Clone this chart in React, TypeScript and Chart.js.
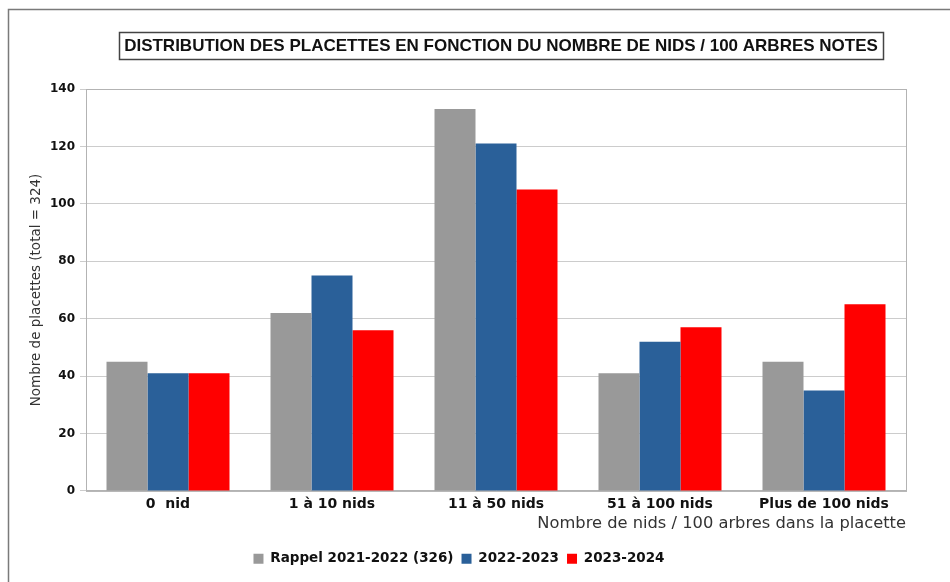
import React, { useRef, useEffect } from 'react';
import { Chart, registerables } from 'chart.js';

Chart.register(...registerables);

const categories = ['0  nid', '1 à 10 nids', '11 à 50 nids', '51 à 100 nids', 'Plus de 100 nids'];
const rappel2122 = [45, 62, 133, 41, 45];
const saison2223 = [41, 75, 121, 52, 35];
const saison2324 = [41, 56, 105, 57, 65];
const chartTitle = 'DISTRIBUTION DES PLACETTES EN FONCTION DU NOMBRE DE NIDS / 100 ARBRES NOTES';

const FONT = '"DejaVu Sans", Verdana, sans-serif';
const TITLE_FONT = '"Liberation Sans", Arial, sans-serif';

// outer frame, boxed title and plot border
const framePlugin = {
  id: 'frame',
  beforeDraw: (chart: Chart) => {
    const ctx = chart.ctx;
    ctx.save();
    ctx.fillStyle = '#ffffff';
    ctx.fillRect(0, 0, chart.width, chart.height);
    ctx.strokeStyle = '#7a7a7a';
    ctx.lineWidth = 1.5;
    ctx.beginPath();
    ctx.moveTo(8.5, chart.height);
    ctx.lineTo(8.5, 9.5);
    ctx.lineTo(chart.width, 9.5);
    ctx.stroke();
    ctx.restore();
  },
  afterDraw: (chart: Chart) => {
    const ctx = chart.ctx;
    const { left, right, top, bottom } = chart.chartArea;
    ctx.save();
    ctx.strokeStyle = '#b3b3b3';
    ctx.lineWidth = 1;
    ctx.strokeRect(left + 0.5, top + 0.5, right - left, bottom - top);

    // title text inside a box
    const cx = 501;
    const cy = 46;
    ctx.font = `bold 17px ${TITLE_FONT}`;
    ctx.fillStyle = '#111111';
    ctx.textAlign = 'center';
    ctx.textBaseline = 'middle';
    const w = ctx.measureText(chartTitle).width;
    ctx.fillText(chartTitle, cx, cy);
    ctx.strokeStyle = '#444444';
    ctx.lineWidth = 1.5;
    ctx.strokeRect(Math.round(cx - w / 2 - 5) + 0.5, cy - 13.5, Math.round(w + 10), 27);
    ctx.restore();
  },
};

const App: React.FC = () => {
  const chartRef = useRef<HTMLCanvasElement>(null);
  const chartInstance = useRef<Chart | null>(null);

  useEffect(() => {
    if (!chartRef.current) return;
    if (chartInstance.current) chartInstance.current.destroy();
    document.body.style.margin = '0';

    chartInstance.current = new Chart(chartRef.current, {
      type: 'bar',
      data: {
        labels: categories,
        datasets: [
          { label: 'Rappel 2021-2022 (326)', data: rappel2122, backgroundColor: '#999999' },
          { label: '2022-2023', data: saison2223, backgroundColor: '#2a6099' },
          { label: '2023-2024', data: saison2324, backgroundColor: '#ff0000' },
        ],
      },
      options: {
        responsive: false,
        animation: false,
        layout: { padding: { top: 0, left: 12, right: 44, bottom: 6.4 } },
        datasets: {
          bar: { categoryPercentage: 0.75, barPercentage: 1 },
        },
        plugins: {
          // only reserves the space; the text is drawn by framePlugin
          title: {
            display: true,
            text: chartTitle,
            color: 'rgba(0,0,0,0)',
            font: { family: TITLE_FONT, size: 17, weight: 'bold' },
            padding: { top: 37, bottom: 31.6 },
          },
          legend: {
            position: 'bottom',
            labels: {
              color: '#111111',
              font: { family: FONT, size: 13.5, weight: 'bold' },
              boxWidth: 10,
              boxHeight: 10,
              padding: 8,
            },
          },
          tooltip: { enabled: false },
        },
        scales: {
          x: {
            grid: { display: false, drawTicks: false },
            border: { color: '#b3b3b3' },
            ticks: {
              color: '#111111',
              font: { family: FONT, size: 14, weight: 'bold' },
              padding: 5,
            },
            title: {
              display: true,
              text: 'Nombre de nids / 100 arbres dans la placette',
              align: 'end',
              color: '#333333',
              font: { family: FONT, size: 16.3 },
              padding: { top: -3.6, bottom: 10.4 },
            },
          },
          y: {
            min: 0,
            max: 140,
            afterFit: (scale: any) => {
              scale.width = 74;
            },
            grid: { color: '#cccccc', tickLength: 6 },
            border: { color: '#b3b3b3' },
            ticks: {
              stepSize: 20,
              color: '#111111',
              font: { family: FONT, size: 12, weight: 'bold' },
              padding: 5,
            },
            title: {
              display: true,
              text: 'Nombre de placettes (total = 324)',
              color: '#333333',
              font: { family: FONT, size: 13.5 },
              padding: { top: 16, bottom: 0 },
            },
          },
        },
      },
      plugins: [framePlugin],
    });

    return () => {
      if (chartInstance.current) {
        chartInstance.current.destroy();
        chartInstance.current = null;
      }
    };
  }, []);

  return <canvas ref={chartRef} width={950} height={582} style={{ display: 'block' }} />;
};

export default App;
